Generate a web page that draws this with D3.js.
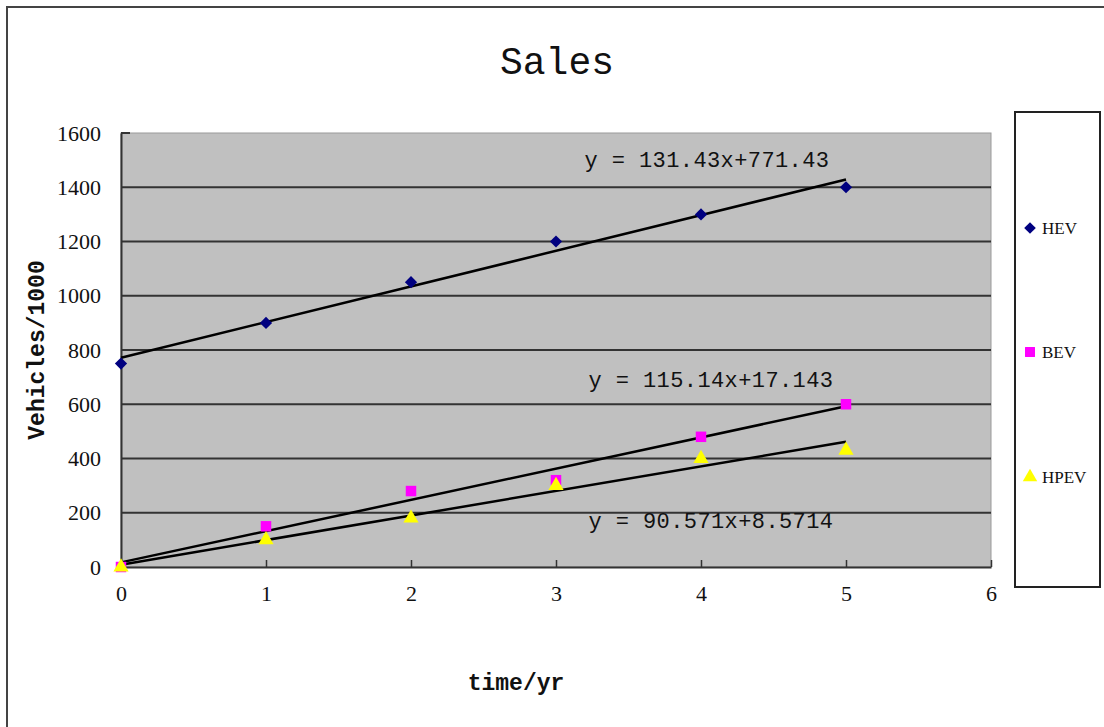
<!DOCTYPE html>
<html><head><meta charset="utf-8">
<script src="https://cdn.jsdelivr.net/npm/d3@7"></script>
<style>body{margin:0;background:#fff;} svg{display:block;}</style>
</head><body>
<script>
const years = [0, 1, 2, 3, 4, 5];
const hev = [750, 900, 1050, 1200, 1300, 1400];
const bev = [0, 150, 280, 320, 480, 600];
const hpev = [0, 100, 180, 300, 400, 430];
const seriesNames = ["HEV", "BEV", "HPEV"];
const trendSlopes = [131.43, 115.14, 90.571];
const trendIntercepts = [771.43, 17.143, 8.5714];
const trendLabels = ["y = 131.43x+771.43", "y = 115.14x+17.143", "y = 90.571x+8.5714"];
const xTicks = [0, 1, 2, 3, 4, 5, 6];
const yTicks = [0, 200, 400, 600, 800, 1000, 1200, 1400, 1600];

const W = 1104, H = 727;
const svg = d3.select("body").append("svg").attr("width", W).attr("height", H);
const mono = "'Liberation Mono', 'DejaVu Sans Mono', monospace";
const serif = "'Liberation Serif', 'DejaVu Serif', serif";

// outer frame
svg.append("path").attr("d", "M7,727 L7,7 L1104,7").attr("fill", "none").attr("stroke", "#444").attr("stroke-width", 2);

const pl = 121, pr = 991, pt = 133, pb = 567;
const x = d3.scaleLinear().domain([0, 6]).range([pl, pr]);
const y = d3.scaleLinear().domain([0, 1600]).range([pb, pt]);

svg.append("rect").attr("x", pl).attr("y", pt).attr("width", pr - pl).attr("height", pb - pt)
  .attr("fill", "#c0c0c0").attr("stroke", "#9a9a9a").attr("stroke-width", 1);

// gridlines
svg.append("g").selectAll("line").data(yTicks.filter(d => d > 0 && d < 1600)).join("line")
  .attr("x1", pl).attr("x2", pr).attr("y1", d => y(d)).attr("y2", d => y(d))
  .attr("stroke", "#333").attr("stroke-width", 2);

// y axis
const yAxis = svg.append("g").attr("transform", `translate(${pl},0)`)
  .call(d3.axisLeft(y).tickValues(yTicks).tickSize(0).tickPadding(20).tickFormat(d3.format("d")));
yAxis.select(".domain").attr("stroke", "#333").attr("stroke-width", 2);
yAxis.selectAll("text").attr("font-family", serif).attr("font-size", 22).attr("fill", "#111");
svg.append("line").attr("x1", pl).attr("x2", pl + 9).attr("y1", pt).attr("y2", pt).attr("stroke", "#333").attr("stroke-width", 2);

// x axis
const xAxis = svg.append("g").attr("transform", `translate(0,${pb})`)
  .call(d3.axisBottom(x).tickValues(xTicks).tickSizeInner(-7).tickSizeOuter(0).tickPadding(18).tickFormat(d3.format("d")));
xAxis.select(".domain").attr("stroke", "#333").attr("stroke-width", 2);
xAxis.selectAll(".tick line").attr("stroke", "#333").attr("stroke-width", 1.5);
xAxis.selectAll("text").attr("font-family", serif).attr("font-size", 22).attr("fill", "#111");

// title
svg.append("text").attr("x", 557).attr("y", 74).attr("text-anchor", "middle")
  .attr("font-family", mono).attr("font-size", 38).attr("fill", "#111").text("Sales");

// axis titles
svg.append("text").attr("transform", "translate(44,350) rotate(-90)").attr("text-anchor", "middle")
  .attr("font-family", mono).attr("font-weight", "bold").attr("font-size", 23).attr("fill", "#111").text("Vehicles/1000");
svg.append("text").attr("x", 516).attr("y", 690).attr("text-anchor", "middle")
  .attr("font-family", mono).attr("font-weight", "bold").attr("font-size", 23).attr("fill", "#111").text("time/yr");

// trend lines
const trendG = svg.append("g");
trendSlopes.forEach((m, i) => {
  const b = trendIntercepts[i];
  trendG.append("line").attr("x1", x(0)).attr("y1", y(b)).attr("x2", x(5)).attr("y2", y(m * 5 + b))
    .attr("stroke", "#000").attr("stroke-width", 2.5);
});

// equation labels
const eqPos = [[707, 167], [711, 387], [711, 528]];
trendLabels.forEach((t, i) => {
  svg.append("text").attr("x", eqPos[i][0]).attr("y", eqPos[i][1]).attr("text-anchor", "middle")
    .attr("font-family", mono).attr("font-size", 22).attr("letter-spacing", 0.4).attr("fill", "#111").text(t);
});

const sym = [d3.symbolSquare, d3.symbolSquare, d3.symbolTriangle];
const rot = [45, 0, 0];
const colors = ["#000080", "#ff00ff", "#ffff00"];
const sizes = [75, 110, 100];
const data = [hev, bev, hpev];
data.forEach((vals, i) => {
  svg.append("g").selectAll("path").data(vals).join("path")
    .attr("transform", (d, j) => `translate(${x(years[j])},${y(d)}) rotate(${rot[i]})`)
    .attr("d", d3.symbol().type(sym[i]).size(sizes[i]))
    .attr("fill", colors[i]);
});

// legend
svg.append("rect").attr("x", 1015).attr("y", 112).attr("width", 85).attr("height", 475)
  .attr("fill", "#fff").attr("stroke", "#222").attr("stroke-width", 2);
const legY = [228, 352, 477];
seriesNames.forEach((n, i) => {
  svg.append("path").attr("transform", `translate(1030,${legY[i]}) rotate(${rot[i]})`)
    .attr("d", d3.symbol().type(sym[i]).size(sizes[i] * 0.9)).attr("fill", colors[i]);
  svg.append("text").attr("x", 1042).attr("y", legY[i] + 6).attr("font-family", serif)
    .attr("font-size", 17).attr("fill", "#111").text(n);
});
</script>
</body></html>
